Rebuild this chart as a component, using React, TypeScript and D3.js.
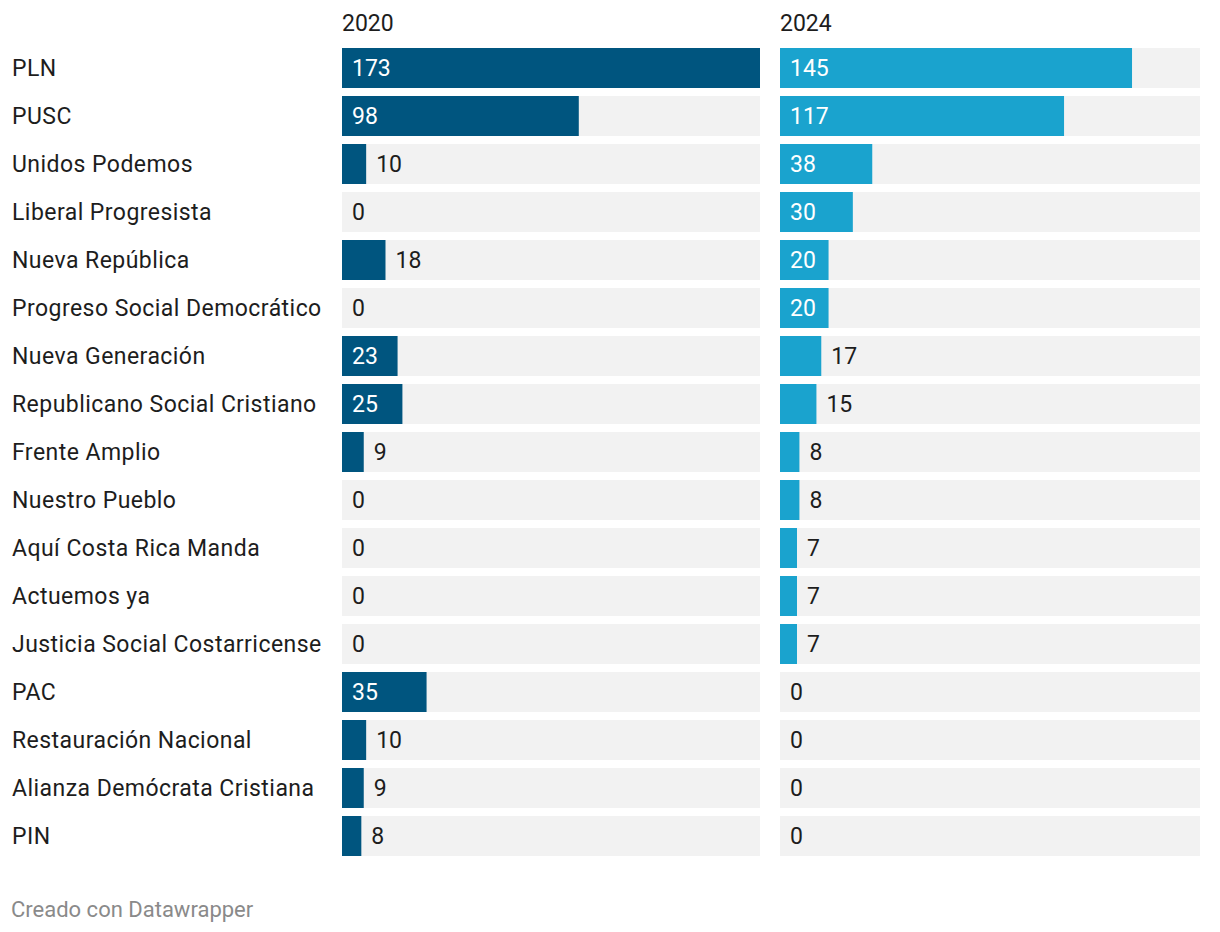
import React from "react";
import * as d3 from "d3";

const parties = [
  "PLN", "PUSC", "Unidos Podemos", "Liberal Progresista", "Nueva República",
  "Progreso Social Democrático", "Nueva Generación", "Republicano Social Cristiano",
  "Frente Amplio", "Nuestro Pueblo", "Aquí Costa Rica Manda", "Actuemos ya",
  "Justicia Social Costarricense", "PAC", "Restauración Nacional",
  "Alianza Demócrata Cristiana", "PIN",
];
const values2020 = [173, 98, 10, 0, 18, 0, 23, 25, 9, 0, 0, 0, 0, 35, 10, 9, 8];
const values2024 = [145, 117, 38, 30, 20, 20, 17, 15, 8, 8, 7, 7, 7, 0, 0, 0, 0];
const seriesNames = ["2020", "2024"];
const seriesColors = ["#00557f", "#1aa3ce"];
const footer = "Creado con Datawrapper";

const W = 1220;
const H = 932;
const FONT = "Roboto, 'Noto Sans', sans-serif";
const FS = 23;

export default function App() {
  const allSeries = [values2020, values2024];
  const panels = [
    { x0: 342, x1: 760 },
    { x0: 780, x1: 1200 },
  ];
  const maxV = d3.max([...values2020, ...values2024]) as number;
  const step = 48;
  const bandH = 40;
  const yPos = (p: string) => 48 + parties.indexOf(p) * step;

  return (
    <svg width={W} height={H} style={{ display: "block", position: "absolute", left: 0, top: 0, background: "#fff" }} fontFamily={FONT}>
      {parties.map((p) => (
        <text key={p} x={12} y={yPos(p) + bandH / 2} dy="0.35em" fontSize={FS} letterSpacing={0.45} fill="#1d1d1d">
          {p}
        </text>
      ))}
      {panels.map((pn, si) => {
        const x = d3.scaleLinear().domain([0, maxV]).range([pn.x0, pn.x1]);
        const vals = allSeries[si];
        return (
          <g key={si}>
            <text x={pn.x0} y={23} dy="0.35em" fontSize={FS} fill="#1d1d1d">{seriesNames[si]}</text>
            {parties.map((p, i) => {
              const v = vals[i];
              const yy = yPos(p);
              const w = x(v) - x(0);
              const inside = w > 46;
              return (
                <g key={p}>
                  <rect x={pn.x0} y={yy} width={pn.x1 - pn.x0} height={bandH} fill="#f2f2f2" />
                  {v > 0 && <rect x={pn.x0} y={yy} width={w} height={bandH} fill={seriesColors[si]} />}
                  <text
                    x={inside ? pn.x0 + 10 : x(v) + 10}
                    y={yy + bandH / 2}
                    dy="0.35em"
                    fontSize={FS}
                    fill={inside ? "#ffffff" : "#1d1d1d"}
                  >
                    {v}
                  </text>
                </g>
              );
            })}
          </g>
        );
      })}
      <text x={11} y={909} dy="0.35em" fontSize={22} fill="#8a8a8a">{footer}</text>
    </svg>
  );
}
